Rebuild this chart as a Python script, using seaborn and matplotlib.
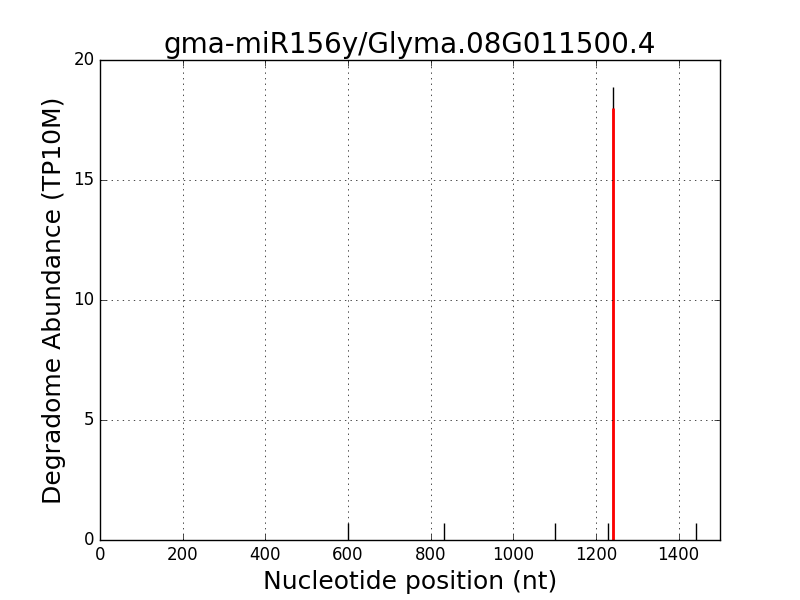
import matplotlib
matplotlib.use("Agg")
import matplotlib.pyplot as plt
import seaborn as sns

# degradome tags (position, abundance)
tag_pos = [599, 832, 1101, 1229, 1240, 1442]
tag_abund = [0.72, 0.72, 0.72, 0.72, 18.86, 0.72]

# predicted cleavage site
cleave_pos = [1241]
cleave_abund = [18.0]

title = "gma-miR156y/Glyma.08G011500.4"

plt.style.use("classic")
sns.set_style(rc={"grid.linestyle": ":", "grid.color": "black"})

fig, ax = plt.subplots(figsize=(8, 6), dpi=100)
fig.patch.set_facecolor("white")

ax.vlines(tag_pos, 0, tag_abund, colors="black", linewidth=1)
ax.vlines(cleave_pos, 0, cleave_abund, colors="red", linewidth=2)

ax.set_xlim(0, 1500)
ax.set_ylim(0, 20)
ax.set_xticks(range(0, 1600, 200))
ax.set_yticks([0, 5, 10, 15, 20])
ax.grid(True)
ax.set_title(title, fontsize=20)
ax.set_xlabel("Nucleotide position (nt)", fontsize=18)
ax.set_ylabel("Degradome Abundance (TP10M)", fontsize=18)

fig.savefig("out.png", dpi=100, facecolor="white")
